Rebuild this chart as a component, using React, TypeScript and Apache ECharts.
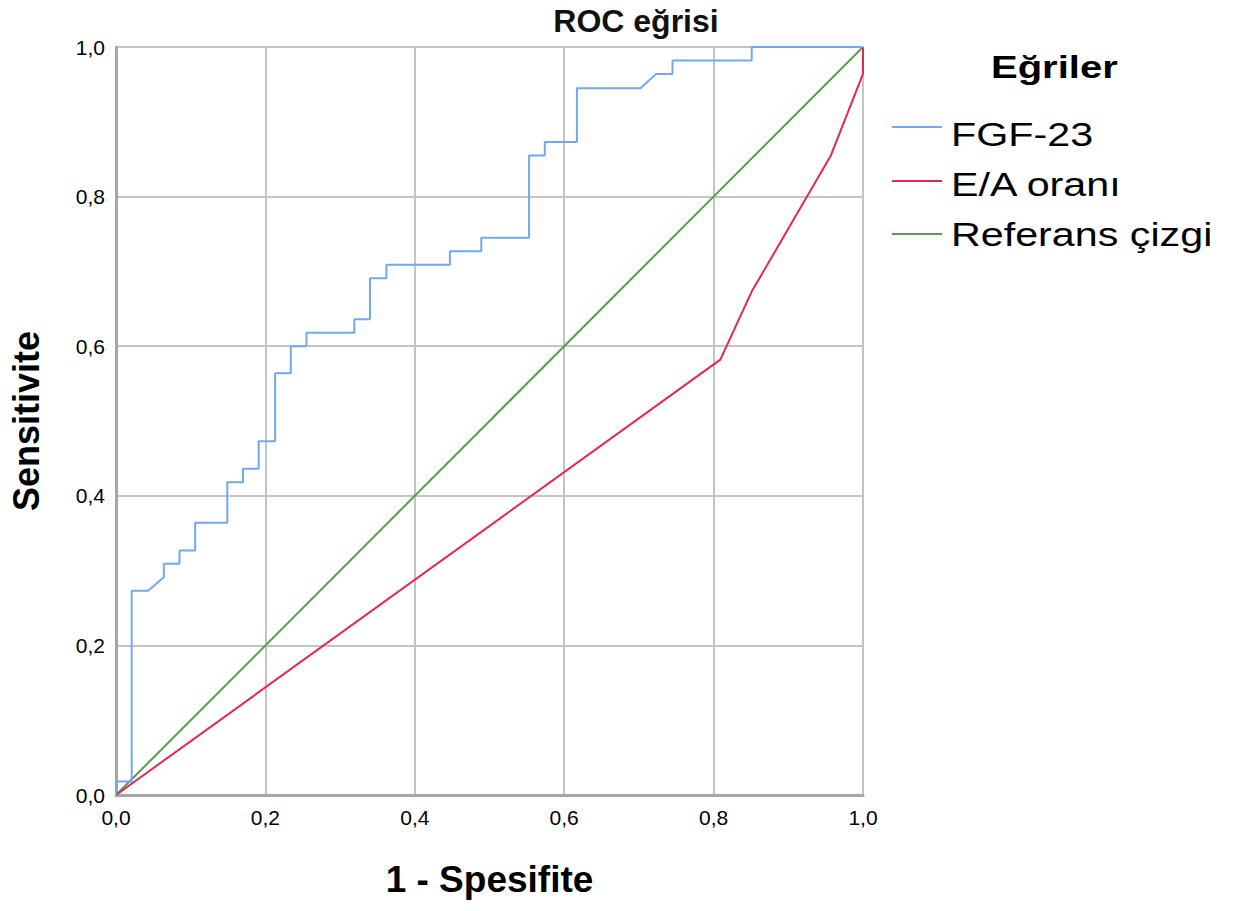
import React, { useEffect, useRef } from "react";
import * as echarts from "echarts";

const titleText = "ROC eğrisi";
const xAxisName = "1 - Spesifite";
const yAxisName = "Sensitivite";
const legendTitle = "Eğriler";
const seriesNames = ["FGF-23", "E/A oranı", "Referans çizgi"];
const seriesColors = ["#72a8ef", "#e3284f", "#52a04a"];

// FGF-23 ROC curve (1 - specificity, sensitivity)
const fgf23X = [0, 0, 0.021, 0.021, 0.043, 0.064, 0.064, 0.085, 0.085, 0.106, 0.106, 0.149, 0.149, 0.170, 0.170, 0.191, 0.191, 0.213, 0.213, 0.234, 0.234, 0.255, 0.255, 0.319, 0.319, 0.340, 0.340, 0.362, 0.362, 0.447, 0.447, 0.489, 0.489, 0.553, 0.553, 0.574, 0.574, 0.617, 0.617, 0.702, 0.723, 0.745, 0.745, 0.851, 0.851, 1.0];
const fgf23Y = [0, 0.018, 0.018, 0.273, 0.273, 0.291, 0.309, 0.309, 0.327, 0.327, 0.364, 0.364, 0.418, 0.418, 0.436, 0.436, 0.473, 0.473, 0.564, 0.564, 0.600, 0.600, 0.618, 0.618, 0.636, 0.636, 0.691, 0.691, 0.709, 0.709, 0.727, 0.727, 0.745, 0.745, 0.855, 0.855, 0.873, 0.873, 0.945, 0.945, 0.964, 0.964, 0.982, 0.982, 1.0, 1.0];
// E/A ratio ROC curve
const eaX = [0, 0.809, 0.851, 0.957, 1.0, 1.0];
const eaY = [0, 0.582, 0.673, 0.855, 0.964, 1.0];
// Reference line
const refX = [0, 1];
const refY = [0, 1];

const FONT = "'Liberation Sans', Arial, sans-serif";

function pairs(xs: number[], ys: number[]) {
  return xs.map((x, i) => [x, ys[i]]);
}

export default function App() {
  const ref = useRef<HTMLDivElement>(null);
  useEffect(() => {
    if (!ref.current) return;
    const chart = echarts.init(ref.current, null, { renderer: "svg" });
    const fmt = (v: number) => v.toFixed(1).replace(".", ",");
    const legendLineY = [127, 181, 234];
    const legendTextY = [135, 185, 235];
    const legendGraphics: any[] = [
      {
        type: "text",
        x: 991,
        y: 67,
        scaleX: 1.25,
        style: {
          text: legendTitle,
          font: `bold 32px ${FONT}`,
          fill: "#000",
          textAlign: "left",
          textVerticalAlign: "middle",
        },
      },
    ];
    seriesNames.forEach((n, i) => {
      legendGraphics.push({
        type: "line",
        shape: { x1: 892, y1: legendLineY[i], x2: 942, y2: legendLineY[i] },
        style: { stroke: seriesColors[i], lineWidth: 2 },
      });
      legendGraphics.push({
        type: "text",
        x: 951,
        y: legendTextY[i],
        scaleX: 1.25,
        style: {
          text: n,
          font: `33px ${FONT}`,
          fill: "#000",
          textAlign: "left",
          textVerticalAlign: "middle",
        },
      });
    });
    chart.setOption({
      animation: false,
      backgroundColor: "#fff",
      title: {
        text: titleText,
        left: 631,
        textAlign: "center",
        top: 0,
        textStyle: { fontFamily: FONT, fontSize: 32, fontWeight: "bold", color: "#111" },
      },
      grid: { left: 114, right: 374, top: 47, bottom: 116, containLabel: false },
      xAxis: {
        type: "value",
        min: 0,
        max: 1,
        interval: 0.2,
        name: xAxisName,
        nameLocation: "middle",
        nameGap: 66,
        nameTextStyle: { fontFamily: FONT, fontSize: 37, fontWeight: "bold", color: "#000" },
        axisLine: { show: true, lineStyle: { color: "#a6a6a6", width: 3 } },
        axisTick: { show: false },
        axisLabel: { formatter: fmt, fontFamily: FONT, fontSize: 21, color: "#000", margin: 12 },
        splitLine: { show: true, lineStyle: { color: "#c4c4c4", width: 2 } },
      },
      yAxis: {
        type: "value",
        min: 0,
        max: 1,
        interval: 0.2,
        name: yAxisName,
        nameLocation: "middle",
        nameGap: 72,
        nameTextStyle: { fontFamily: FONT, fontSize: 36, fontWeight: "bold", color: "#000" },
        axisLine: { show: true, lineStyle: { color: "#a6a6a6", width: 3 } },
        axisTick: { show: false },
        axisLabel: { formatter: fmt, fontFamily: FONT, fontSize: 21, color: "#000", margin: 11 },
        splitLine: { show: true, lineStyle: { color: "#c4c4c4", width: 2 } },
      },
      graphic: legendGraphics,
      series: [
        {
          name: seriesNames[2],
          type: "line",
          data: pairs(refX, refY),
          showSymbol: false,
          lineStyle: { color: seriesColors[2], width: 2 },
          z: 3,
        },
        {
          name: seriesNames[1],
          type: "line",
          data: pairs(eaX, eaY),
          showSymbol: false,
          lineStyle: { color: seriesColors[1], width: 2 },
          z: 4,
        },
        {
          name: seriesNames[0],
          type: "line",
          data: pairs(fgf23X, fgf23Y),
          showSymbol: false,
          lineStyle: { color: seriesColors[0], width: 2 },
          z: 5,
        },
      ],
    });
    return () => chart.dispose();
  }, []);
  return <div ref={ref} style={{ width: 1237, height: 911, margin: -8 }} />;
}
